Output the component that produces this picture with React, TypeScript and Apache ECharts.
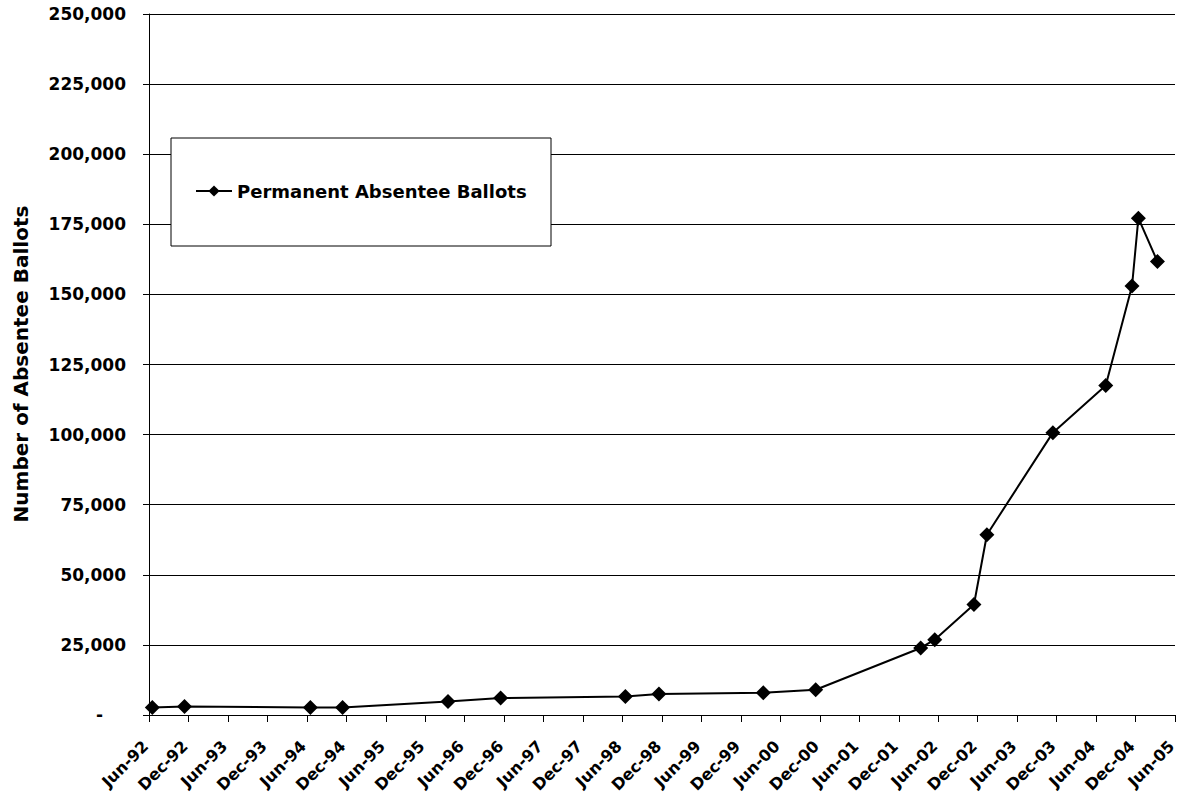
import React, { useEffect, useRef } from "react";
import * as echarts from "echarts";

const obsDates = [
  "1992-06-16", "1992-11-13", "1994-06-17", "1994-11-14", "1996-03-15",
  "1996-11-15", "1998-06-14", "1998-11-17", "2000-03-13", "2000-11-12",
  "2002-03-11", "2002-05-15", "2002-11-14", "2003-01-13", "2003-11-14",
  "2004-07-15", "2004-11-15", "2004-12-14", "2005-03-11",
];
const ballots = [
  2700, 3070, 2700, 2700, 4850,
  6060, 6630, 7490, 7950, 9020,
  23900, 26850, 39400, 64300, 100700,
  117500, 153000, 177200, 161700,
];
const seriesName = "Permanent Absentee Ballots";
const yAxisTitle = "Number of Absentee Ballots";
const monthNames = ["Jun", "Dec"];
const startYear = 1992; // axis starts Jun-92
const endMonths = 156; // Jun-05
const yMax = 250000;
const yStep = 25000;

const FONT = "DejaVu Sans";

function monthsFromStart(d: string): number {
  const [y, m, day] = d.split("-").map(Number);
  return (y - startYear) * 12 + (m - 6) + (day - 1) / 30;
}

function xLabel(v: number): string {
  const m = Math.round(v);
  const yr = startYear + Math.floor(m / 12);
  const name = m % 12 === 0 ? monthNames[0] : monthNames[1];
  return name + "-" + String(yr % 100).padStart(2, "0");
}

export default function App() {
  const ref = useRef<HTMLDivElement>(null);
  useEffect(() => {
    if (!ref.current) return;
    const chart = echarts.init(ref.current, null, { renderer: "svg" });
    const data = obsDates.map((d, i) => [monthsFromStart(d), ballots[i]]);
    chart.setOption({
      animation: false,
      backgroundColor: "#fff",
      textStyle: { fontFamily: FONT },
      grid: {
        left: 149,
        right: 3,
        top: 14,
        bottom: 84,
        containLabel: false,
        outerBoundsMode: "none",
      },
      xAxis: {
        type: "value",
        min: 0,
        max: endMonths,
        interval: 6,
        axisLine: { show: true, onZero: false, lineStyle: { color: "#000", width: 1 } },
        axisTick: { show: true, length: 7, inside: false, lineStyle: { color: "#000" } },
        splitLine: { show: false },
        axisLabel: {
          rotate: 45,
          margin: 25,
          padding: [0, 5, 0, 0],
          color: "#000",
          fontFamily: FONT,
          fontWeight: "bold",
          fontSize: 16,
          showMinLabel: true,
          showMaxLabel: true,
          formatter: (v: number) => xLabel(v),
        },
      },
      yAxis: {
        type: "value",
        min: 0,
        max: yMax,
        interval: yStep,
        axisLine: { show: true, lineStyle: { color: "#000", width: 1 } },
        axisTick: { show: true, length: 6, inside: false, lineStyle: { color: "#000" } },
        splitLine: { show: true, lineStyle: { color: "#000", width: 1 } },
        axisLabel: {
          margin: 23,
          color: "#000",
          fontFamily: FONT,
          fontWeight: "bold",
          fontSize: 17,
          formatter: (v: number) =>
            v === 0 ? "{d|-}" : v.toLocaleString("en-US"),
          rich: {
            d: {
              color: "#000",
              fontFamily: FONT,
              fontWeight: "bold",
              fontSize: 17,
              padding: [0, 23, 0, 0],
            },
          },
        },
      },
      legend: {
        show: true,
        left: 195,
        top: 182,
        padding: 0,
        itemWidth: 36,
        itemHeight: 14,
        z: 10,
        textStyle: { color: "#000", fontFamily: FONT, fontWeight: "bold", fontSize: 18 },
        data: [seriesName],
      },
      graphic: [
        {
          type: "rect",
          z: 5,
          shape: { x: 171, y: 138, width: 380, height: 108 },
          style: { fill: "#fff", stroke: "#000", lineWidth: 1 },
        },
        {
          type: "text",
          x: 21,
          y: 364,
          rotation: Math.PI / 2,
          style: {
            text: yAxisTitle,
            fill: "#000",
            font: `bold 20px "${FONT}"`,
            align: "center",
            verticalAlign: "middle",
          },
        },
      ],
      series: [
        {
          name: seriesName,
          type: "line",
          data,
          symbol: "diamond",
          symbolSize: 15,
          showAllSymbol: true,
          lineStyle: { color: "#000", width: 2 },
          itemStyle: { color: "#000" },
          z: 3,
        },
      ],
    });
    return () => chart.dispose();
  }, []);
  return (
    <div
      ref={ref}
      style={{ position: "fixed", left: 0, top: 0, width: 1178, height: 799 }}
    />
  );
}
